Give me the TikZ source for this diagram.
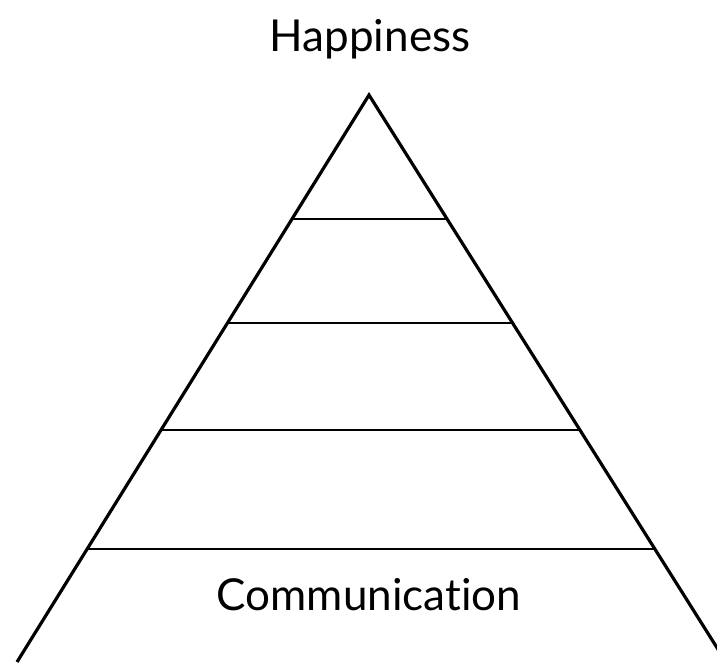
\documentclass[tikz,border=0pt]{standalone}
\usepackage{fontspec}
\setmainfont{Lato}[Ligatures={NoCommon,NoRare,NoContextual}]
\usetikzlibrary{calc}
\begin{document}
\begin{tikzpicture}[x=1pt,y=-1pt,
  edge/.style={line width=3.2pt,black},
  tier/.style={line width=2.7pt,black},
  label/.style={font=\fontsize{44}{48}\selectfont,inner sep=0pt,anchor=base}]
\useasboundingbox (0,0) rectangle (717,662);
\clip (0,0) rectangle (717,662);
\coordinate (apex) at (369,95);
\coordinate (bl) at (17,662);
\coordinate (br) at (726,662);
\draw[edge,line join=miter] (bl) -- (apex) -- (br);
\foreach \y/\n in {219/a,323/b,430/c,549/d}{
  \coordinate (L\n) at ($(apex)!{(\y-95)/567}!(bl)$);
  \coordinate (R\n) at ($(apex)!{(\y-95)/567}!(br)$);
  \draw[tier] (L\n) -- (R\n);
}
\node[label] (top) at (370,51) {Happiness};
\node[label] (bottom) at (369,610) {Communication};
\end{tikzpicture}
\end{document}
